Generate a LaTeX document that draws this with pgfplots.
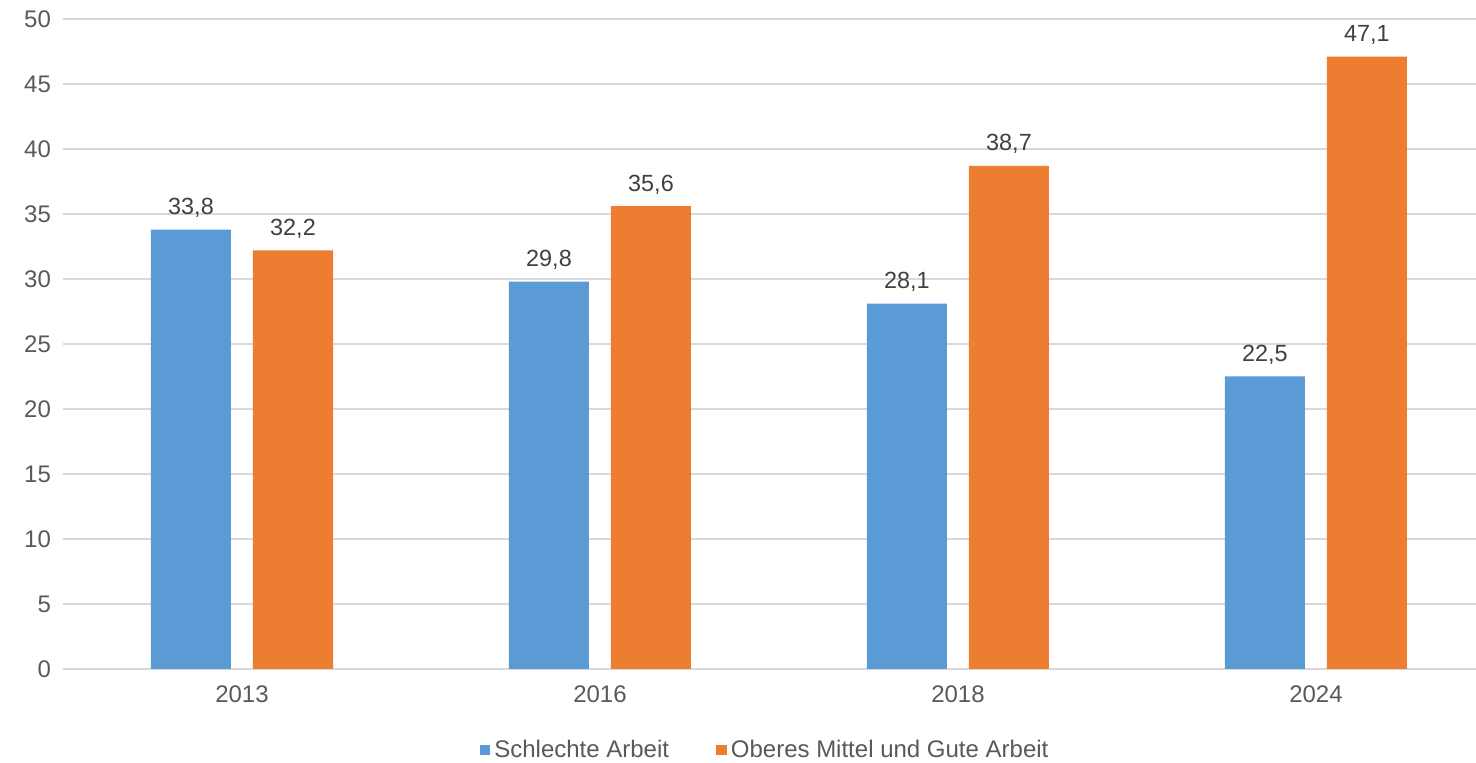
\documentclass[border=0pt]{standalone}
\usepackage{pgfplots}
\pgfplotsset{compat=1.18}
\usepackage{fontspec}
\setmainfont{Liberation Sans}
\usetikzlibrary{calc}
\definecolor{cblue}{HTML}{5B9BD5}
\definecolor{corange}{HTML}{ED7D31}
\definecolor{tick}{HTML}{595959}
\definecolor{lbl}{HTML}{404040}
\definecolor{grid}{HTML}{D9D9D9}
\begin{document}
\begin{tikzpicture}
\begin{axis}[
  scale only axis,
  width=706.5pt, height=325pt,
  xmin=-0.5, xmax=3.447,
  ymin=0, ymax=50,
  ytick={0,5,...,50},
  xtick={0,1,2,3},
  xticklabels={2013,2016,2018,2024},
  ybar=11pt, bar width=40pt,
  axis line style={draw=none},
  major tick length=0pt,
  ymajorgrids, xmajorgrids=false,
  major grid style={color=grid, line width=0.75pt},
  /pgf/number format/assume math mode=true,
  tick label style={font=\fontsize{12}{14}\selectfont, text=tick},
  yticklabel style={xshift=-2.5pt},
  xticklabel style={yshift=-5pt},
  nodes near coords,
  nodes near coords style={font=\fontsize{11.7}{14}\selectfont, text=lbl, anchor=base, inner sep=0pt, yshift=7.5pt,
    /pgf/number format/.cd, fixed, precision=1, fixed zerofill, use comma, assume math mode=true},
  legend columns=2,
  legend style={draw=none, at={(0.4975,-0.1245)}, anchor=center, font=\fontsize{12}{14}\selectfont, text=tick,
    /tikz/every even column/.append style={column sep=21.5pt}, inner sep=0pt},
  legend image code/.code={\fill[#1] (0pt,-2.7pt) rectangle (5.4pt,2.7pt);},
  extra description/.code={
    \coordinate (bl) at (rel axis cs:0,0);
    \coordinate (tr) at (rel axis cs:1,1);
  },
]
\addplot[fill=cblue, draw=none] coordinates {(0,33.8) (1,29.8) (2,28.1) (3,22.5)};
\addplot[fill=corange, draw=none] coordinates {(0,32.2) (1,35.6) (2,38.7) (3,47.1)};
\legend{Schlechte Arbeit, Oberes Mittel und Gute Arbeit}
\end{axis}
\pgfresetboundingbox
\path[use as bounding box] ($(bl)+(-31.5pt,-47pt)$) rectangle ($(tr)+(0,9.5pt)$);
\end{tikzpicture}
\end{document}
